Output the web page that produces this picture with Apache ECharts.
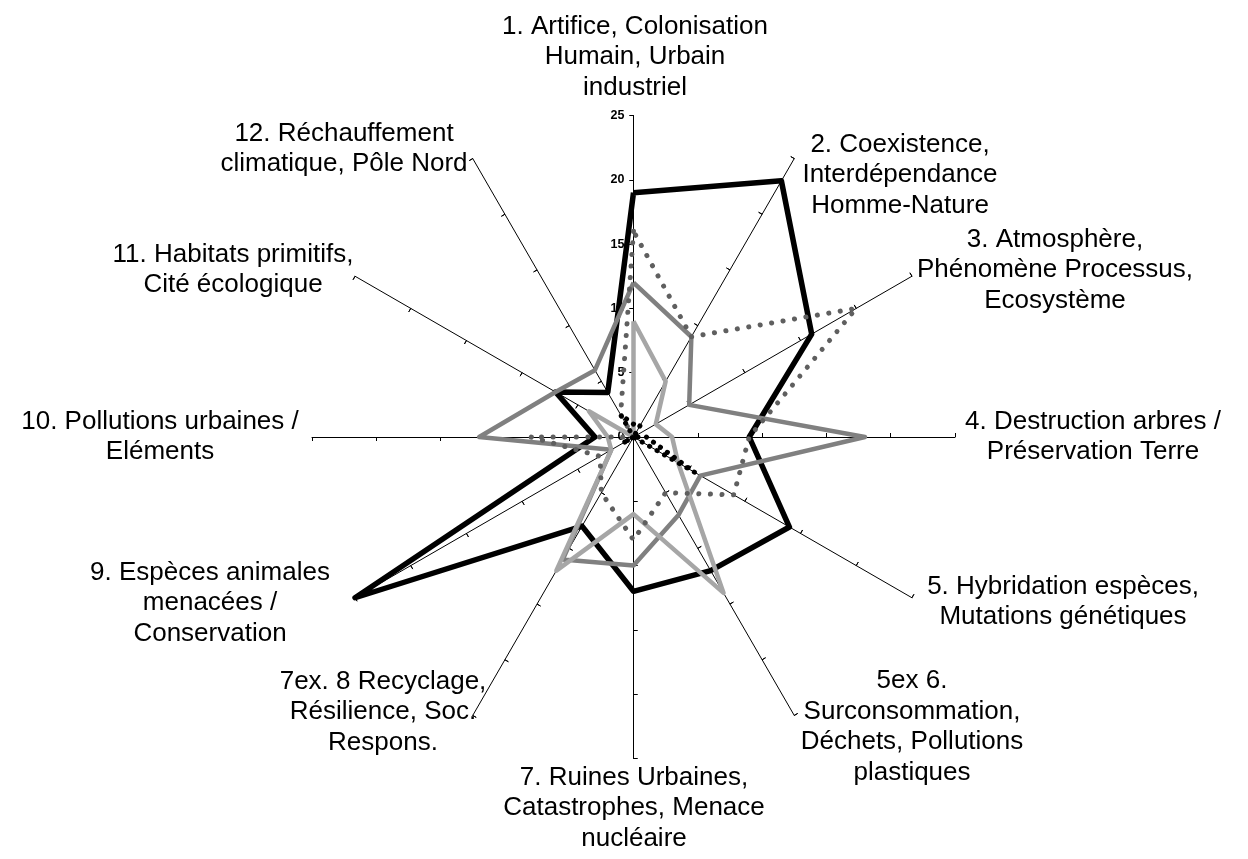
<!DOCTYPE html>
<html>
<head>
<meta charset="utf-8">
<script src="https://cdn.jsdelivr.net/npm/echarts@6/dist/echarts.min.js"></script>
<style>
  html, body { margin: 0; padding: 0; background: #ffffff; }
  #chart { width: 1248px; height: 859px; }
</style>
</head>
<body>
<div id="chart"></div>
<script>
// Themes, listed clockwise from the top spoke
const categories = [
  '1. Artifice, Colonisation\nHumain, Urbain\nindustriel',
  '2. Coexistence,\nInterdépendance\nHomme-Nature',
  '3. Atmosphère,\nPhénomène Processus,\nEcosystème',
  '4. Destruction arbres /\nPréservation Terre',
  '5. Hybridation espèces,\nMutations génétiques',
  '5ex 6.\nSurconsommation,\nDéchets, Pollutions\nplastiques',
  '7. Ruines Urbaines,\nCatastrophes, Menace\nnucléaire',
  '7ex. 8 Recyclage,\nRésilience, Soc.\nRespons.',
  '9. Espèces animales\nmenacées /\nConservation',
  '10. Pollutions urbaines /\nEléments',
  '11. Habitats primitifs,\nCité écologique',
  '12. Réchauffement\nclimatique, Pôle Nord'
];

// Value scale shown along the first spoke
const valueTicks = [0, 5, 10, 15, 20, 25];

// Series values, one per theme (same order as categories)
const blackSolid     = [19, 23, 16, 9, 14, 12, 12, 8, 25, 3, 7, 4];
const midGraySolid   = [12, 9, 5, 18, 6, 7, 10, 11, 2, 12, 7, 6];
const lightGraySolid = [9, 5, 2, 3, 4, 14, 6, 12, 2, 2, 4, 0];
const grayDotted     = [16, 9, 20, 9, 9, 5, 8, 5, 3, 8, 0, 2];
const blackDotted    = [1, 1, 0, 1, 5.5, 0, 0, 0, 1, 0, 0, 2];

// ---- layout ----
const CENTER = [633.5, 437];
const RADIUS = 321.5;
// centre of each theme's text block
const labelAnchors = [
  [635, 57], [900, 175], [1055, 270], [1093, 437], [1063, 602], [912, 727],
  [634, 808], [383, 712], [210, 603], [160, 437], [233, 270], [344, 149]
];

// ECharts lays radar spokes out counter-clockwise; reorder so the themes run clockwise
const order = [0].concat(categories.slice(1).map((_, i) => categories.length - 1 - i));
const reorder = arr => order.map(i => arr[i]);

const vMin = valueTicks[0];
const vMax = valueTicks[valueTicks.length - 1];
const splits = valueTicks.length - 1;

const tickLabelStyle = {
  show: true,
  color: '#000000',
  fontSize: 12.5,
  fontWeight: 'bold',
  fontFamily: '"Liberation Sans", Arial, sans-serif',
  margin: 9
};

const indicators = order.map((idx, k) => {
  const ind = { name: '', min: vMin, max: vMax };
  ind.axisLabel = k === 0 ? Object.assign({}, tickLabelStyle) : { show: false };
  return ind;
});

const radarBase = {
  center: CENTER,
  radius: RADIUS,
  startAngle: 90,
  splitNumber: splits,
  shape: 'polygon',
  axisName: { show: false },
  splitLine: { show: false },
  splitArea: { show: false }
};

const chart = echarts.init(document.getElementById('chart'), null, { renderer: 'canvas' });

function polygon(name, values, color, width, dash) {
  return {
    type: 'radar',
    radarIndex: 0,
    name: name,
    symbol: 'none',
    silent: true,
    lineStyle: {
      color: color,
      width: width,
      type: dash || 'solid',
      cap: dash ? 'round' : 'butt',
      join: 'round',
      opacity: 1
    },
    data: [{ value: reorder(values) }]
  };
}

chart.setOption({
  animation: false,
  backgroundColor: '#ffffff',
  radar: [
    Object.assign({}, radarBase, {
      indicator: indicators,
      axisLine: { show: true, lineStyle: { color: '#000000', width: 1 } },
      axisTick: { show: true, length: 4, lineStyle: { color: '#000000', width: 1 } },
      axisLabel: Object.assign({}, tickLabelStyle, { show: false })
    }),
    Object.assign({}, radarBase, {
      indicator: order.map(() => ({ name: '', min: vMin, max: vMax })),
      axisLine: { show: false },
      axisTick: { show: true, inside: true, length: 4, lineStyle: { color: '#000000', width: 1 } },
      axisLabel: { show: false }
    })
  ],
  series: [
    polygon('A', blackSolid, '#000000', 5.5),
    polygon('B', midGraySolid, '#808080', 4.5),
    polygon('C', lightGraySolid, '#a6a6a6', 4.5),
    polygon('D', grayDotted, '#5f5f5f', 5, [0.1, 11.5]),
    polygon('E', blackDotted, '#000000', 5, [0.1, 8.5])
  ],
  graphic: categories.map((txt, i) => ({
    type: 'text',
    x: labelAnchors[i][0],
    y: labelAnchors[i][1],
    silent: true,
    style: {
      text: txt,
      fill: '#000000',
      font: '26px "Liberation Sans", Arial, sans-serif',
      align: 'center',
      verticalAlign: 'middle',
      lineHeight: 30.5
    }
  }))
});
</script>
</body>
</html>
